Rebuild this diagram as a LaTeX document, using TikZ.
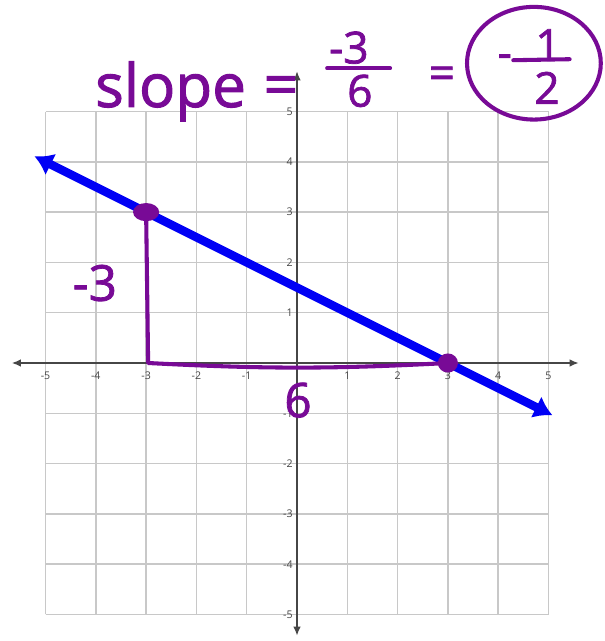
\documentclass[tikz,border=0pt]{standalone}
\usepackage{fontspec}
\setsansfont{Open Sans}
\newfontfamily\handfamily{Open Sans}[FakeBold=1.6]
\usetikzlibrary{arrows.meta}
\definecolor{ink}{RGB}{120,10,150}
\definecolor{lineblue}{RGB}{0,0,245}
\definecolor{gridgray}{RGB}{200,200,200}
\definecolor{axisgray}{RGB}{70,70,70}
\newcommand{\handfont}[1]{\handfamily\fontsize{#1}{#1}\selectfont}
\newcommand{\tickfont}{\sffamily\fontsize{6}{6}\selectfont}
\tikzset{
	hand/.style={text=ink, inner sep=0pt, font=\handfont{#1}},
	pen/.style={draw=ink, line width=2.3pt, line cap=round, line join=round},
	tick/.style={text=axisgray, inner sep=0pt, font=\tickfont},
	axistip/.style={axisgray, line width=0.8pt, {Latex[length=1.8mm,width=1.5mm]}-{Latex[length=1.8mm,width=1.5mm]}},
	linetip/.style={lineblue, line width=4.8pt, {Latex[length=3.6mm,width=4.8mm]}-{Latex[length=3.6mm,width=4.8mm]}}
}
\begin{document}
\begin{tikzpicture}
	\fill[white] (-5.905,-5.527) rectangle (6.123,7.217);
	\useasboundingbox (-5.905,-5.527) rectangle (6.123,7.217);
	
	\draw[gridgray, line width=0.8pt] (-5,-5) grid (5,5);
	\coordinate (xl) at (-5.67,0);
	\coordinate (xr) at (5.6,0);
	\coordinate (yb) at (0,-5.42);
	\coordinate (yt) at (0,5.8);
	\draw[axistip] (xl) -- (xr);
	\draw[axistip] (yb) -- (yt);
	
	\foreach \i [count=\k] in {-5,-4,-3,-2,-1,1,2,3,4,5} {
		\node[tick, anchor=north] (xt\k) at (\i,-0.17) {\i};
		\node[tick, anchor=east] (yt\k) at (-0.08,\i) {\i};
	}
	
	\coordinate (lineL) at (-5.22,4.11);
	\coordinate (lineR) at (5.08,-1.04);
	\draw[linetip] (lineL) -- (lineR);
	
	\coordinate (P) at (-3,3);
	\coordinate (Q) at (3,0);
	\coordinate (R) at (-2.96,0);
	\draw[pen] (P) -- (R) to[bend right=3] (Q);
	\fill[ink] (P) ellipse (0.26 and 0.18);
	\fill[ink] (Q) ellipse (0.2 and 0.19);
	
	\node[hand=28] (rise) at (-4.02,1.59) {-3};
	\node[hand=27] (run) at (0.02,-0.74) {6};
	
	\node[hand=34, anchor=base west] (slope) at (-4.02,5.09) {slope};
	\node[hand=34] (eqA) at (-0.32,5.41) {=};
	\node[hand=25] (num) at (1.03,6.27) {-3};
	\node[hand=25] (den) at (1.25,5.41) {6};
	\coordinate (barL) at (0.6,5.86);
	\coordinate (barR) at (1.85,5.86);
	\draw[pen] (barL) -- (barR);
	\node[hand=26] (eqB) at (2.88,5.67) {=};
	\draw[pen] (4.71,5.96) ellipse (1.33 and 1.12);
	\node[hand=25] (minus) at (4.13,6.0) {-};
	\node[hand=25] (one) at (4.99,6.32) {1};
	\node[hand=25] (two) at (4.97,5.47) {2};
	\coordinate (ansL) at (4.3,6.02);
	\coordinate (ansR) at (5.42,6.04);
	\draw[pen] (ansL) -- (ansR);
\end{tikzpicture}
\end{document}
